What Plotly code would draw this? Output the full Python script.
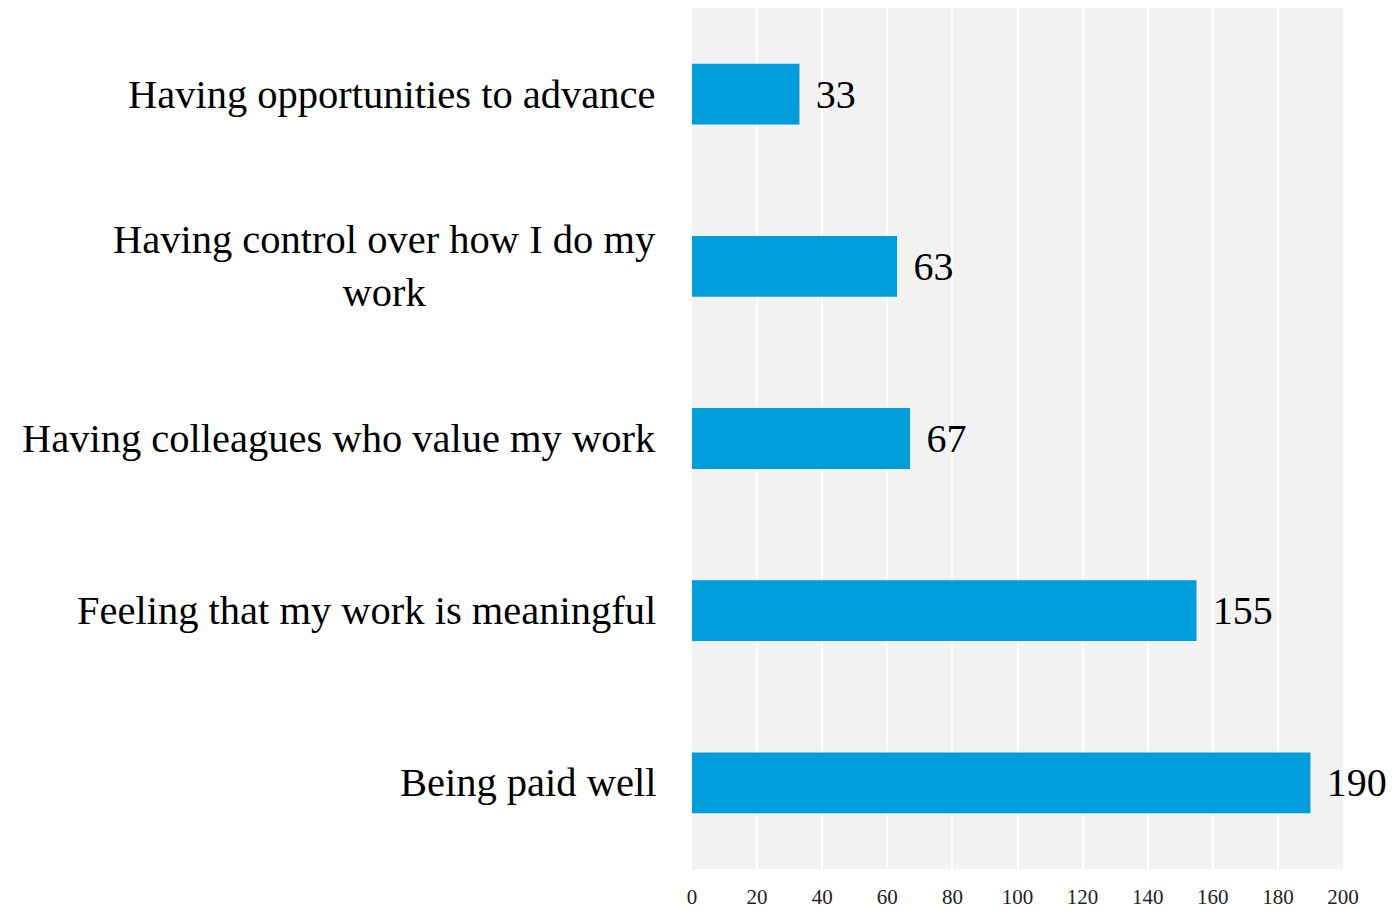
import plotly.graph_objects as go

categories = ["Being paid well", "Feeling that my work is meaningful",
              "Having colleagues who value my work",
              "Having control over how I do my<br>work",
              "Having opportunities to advance"]
values = [190, 155, 67, 63, 33]
tick_vals = list(range(0, 201, 20))

FONT = "Liberation Serif"

fig = go.Figure(go.Bar(
    y=categories, x=values, orientation="h",
    marker=dict(color="#009DDC", line=dict(width=0)),
    text=values, texttemplate="\u2004%{x}", textposition="outside",
    textfont=dict(family=FONT, size=40, color="#000000"),
    cliponaxis=False,
))

for c in categories:
    fig.add_annotation(
        x=0, xref="paper", y=c, yref="y", xanchor="right", xshift=-34,
        text=c, showarrow=False, align="center",
        font=dict(family=FONT, size=40.5, color="#000000"),
    )

fig.update_layout(
    width=1390, height=901,
    margin=dict(l=684, r=55, t=0, b=40),
    plot_bgcolor="#F2F2F2", paper_bgcolor="#FFFFFF",
    bargap=0.647, showlegend=False,
    xaxis=dict(range=[0, 200], tickvals=tick_vals, showgrid=True,
               gridcolor="#FFFFFF", gridwidth=2, zeroline=False,
               tickfont=dict(family=FONT, size=21, color="#222222"),
               ticks="", ticklabelstandoff=13),
    yaxis=dict(showticklabels=False, showgrid=False, zeroline=False,
               categoryorder="array", categoryarray=categories),
)

fig.write_html("out.html")
